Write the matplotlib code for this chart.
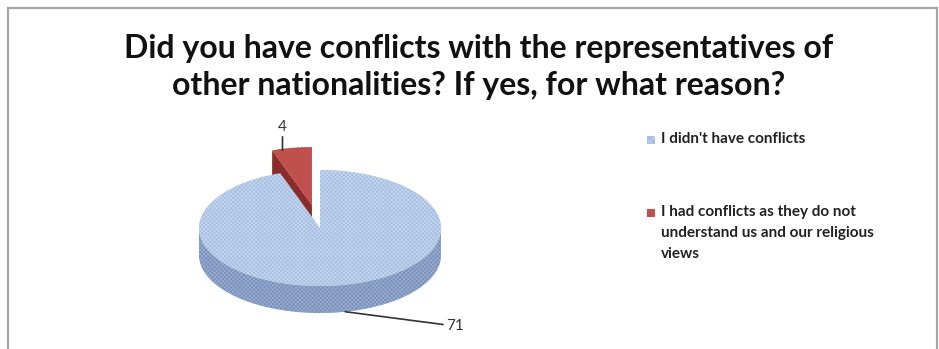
import numpy as np
import matplotlib
matplotlib.use("Agg")
import matplotlib.pyplot as plt
from matplotlib.patches import Polygon, Rectangle

plt.rcParams['font.family'] = ['Lato', 'DejaVu Sans']

title = "Did you have conflicts with the representatives of\nother nationalities? If yes, for what reason?"
labels = ["I didn't have conflicts",
          "I had conflicts as they do not\nunderstand us and our religious\nviews"]
values = [71, 4]
top_colors = ['#a5bee2', '#c0504d']
side_colors = ['#7890b9', '#8a2c2a']
hatch_colors = ['#c9d8ef', '#c0504d']
side_hatch = ['#9cb0d2', '#8a2c2a']
explode = [0, 0.4]
depth = 0.465          # height of the cylinder wall, in y units

W, H = 939, 349
fig = plt.figure(figsize=(W / 100, H / 100), dpi=100)

# axes placed so a unit circle becomes a 121 x 58 px ellipse centred at (320, 228)
rx, ry = 121, 58
cx, cy = 320, 228
x0, x1, y0, y1 = -2, 2, -2, 2.2
ax = fig.add_axes([(cx + x0 * rx) / W, (H - (cy - y0 * ry)) / H,
                   (x1 - x0) * rx / W, (y1 - y0) * ry / H])

plt.rcParams['hatch.linewidth'] = 0.5
wedges, _ = ax.pie(values, colors=top_colors, startangle=90, counterclock=False,
                   explode=explode, radius=1, center=(0, 0), hatch='xxxxxxxx',
                   wedgeprops=dict(linewidth=0))
ax.set_aspect('auto')
ax.set_xlim(x0, x1)
ax.set_ylim(y0, y1)
ax.axis('off')

# the exploded slice sits behind the big one, so it is drawn first
order = {0: (1, 4), 1: (2, 3)}   # wedge -> (wall zorder, top zorder)
for i, w in enumerate(wedges):
    z_wall, z_top = order[i]
    w.set_edgecolor(hatch_colors[i])
    w.set_linewidth(0)
    w.set_zorder(z_top)
    c = np.array(w.center)
    t1, t2 = w.theta1, w.theta2
    # front part of the outer wall (angles where sin < 0)
    for k in range(-2, 3):
        a = max(t1, 180 + 360 * k)
        b = min(t2, 360 + 360 * k)
        if b > a:
            th = np.radians(np.linspace(a, b, 120))
            top = np.column_stack([np.cos(th), np.sin(th)]) + c
            bot = top - [0, depth]
            ax.add_patch(Polygon(np.vstack([top, bot[::-1]]), closed=True,
                                 facecolor=side_colors[i], edgecolor=side_hatch[i],
                                 linewidth=0, hatch='xxxxxxxx', zorder=z_wall))
    # radial cut faces turned towards the viewer
    for edge, nrm in ((t1, t1 - 90), (t2, t2 + 90)):
        if np.sin(np.radians(nrm)) < -1e-6:
            r = np.array([np.cos(np.radians(edge)), np.sin(np.radians(edge))]) + c
            quad = np.array([c, r, r - [0, depth], c - [0, depth]])
            ax.add_patch(Polygon(quad, closed=True, facecolor=side_colors[i],
                                 edgecolor=side_hatch[i], linewidth=0,
                                 zorder=z_wall))

# data labels with leader lines
ax.annotate(str(values[1]), xy=(-0.31, 1.34), xytext=(-0.31, 1.62),
            ha='center', va='bottom', fontsize=11, color='#333333',
            arrowprops=dict(arrowstyle='-', color='#333333', lw=1.2,
                            shrinkA=0, shrinkB=0), zorder=6)
th = np.radians(-78)
ax.annotate(str(values[0]), xy=(np.cos(th), np.sin(th) - depth),
            xytext=(1.04, -1.69), ha='left', va='center', fontsize=11,
            color='#333333',
            arrowprops=dict(arrowstyle='-', color='#333333', lw=1.2,
                            shrinkA=0, shrinkB=0), zorder=6)

fig.text(479 / W, 1 - 67 / H, title, ha='center', va='center', fontsize=23,
         fontweight='bold', linespacing=1.3, color='#111111')

# legend
leg_y = [140, 213]
for i, lab in enumerate(labels):
    fig.add_artist(Rectangle((647 / W, 1 - (leg_y[i] + 4) / H), 8 / W, 8 / H,
                             transform=fig.transFigure, facecolor=top_colors[i],
                             edgecolor=hatch_colors[i], hatch='xxxx' if i == 0 else None,
                             linewidth=0))
    fig.text(661 / W, 1 - (leg_y[i] - 8) / H, lab, ha='left', va='top',
             fontsize=11, fontweight='bold', color='#222222', linespacing=1.62)

# chart frame
fig.add_artist(Rectangle((8 / W, -0.1), 929 / W, 1.1 - 8 / H, transform=fig.transFigure,
                         fill=False, edgecolor='#a6a6a6', linewidth=1.6))

fig.savefig('out.png', dpi=100)
